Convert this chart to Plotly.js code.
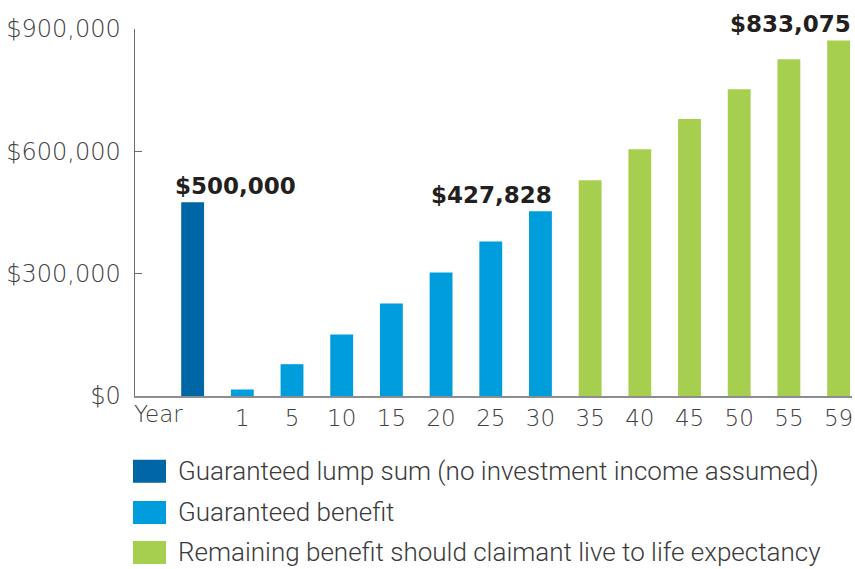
<!DOCTYPE html>
<html>
<head>
<meta charset="utf-8">
<script src="https://cdn.plot.ly/plotly-3.0.1.min.js"></script>
<style>html,body{margin:0;padding:0;background:#fff;}#chart{width:855px;height:569px;}</style>
</head>
<body>
<div id="chart"></div>
<script>
// ---- data ----
const categories = ["Lump sum","1","5","10","15","20","25","30","35","40","45","50","55","59"];
const tickLabels = ["","1","5","10","15","20","25","30","35","40","45","50","55","59"];
const lumpCats = ["Lump sum"];
const lumpValues = [475000];
const guaranteedCats = ["1","5","10","15","20","25","30"];
const guaranteedValues = [16000, 78000, 151000, 227000, 303000, 379000, 453000];
const remainingCats = ["35","40","45","50","55","59"];
const remainingValues = [529000, 605000, 679000, 752000, 826000, 872000];
const seriesNames = [
  "Guaranteed lump sum (no investment income assumed)",
  "Guaranteed benefit",
  "Remaining benefit should claimant live to life expectancy"
];
const colors = ["#0066a6", "#009ddc", "#a6cf50"];
const callouts = [
  {cat: "Lump sum", value: 475000, text: "$500,000", align: "left"},
  {cat: "30", value: 453000, text: "$427,828", align: "right"},
  {cat: "59", value: 872000, text: "$833,075", align: "right"}
];
const yTicks = [0, 300000, 600000, 900000];
const yTickText = ["$0", "$300,000", "$600,000", "$900,000"];

const FONT = "'DejaVu Sans', sans-serif";
const LEGFONT = "Roboto, 'Open Sans', sans-serif";
const BARW = 0.46;

const traces = [
  {type: "bar", x: lumpCats, y: lumpValues, name: seriesNames[0], marker: {color: colors[0]}, width: BARW, showlegend: false},
  {type: "bar", x: guaranteedCats, y: guaranteedValues, name: seriesNames[1], marker: {color: colors[1]}, width: BARW, showlegend: false},
  {type: "bar", x: remainingCats, y: remainingValues, name: seriesNames[2], marker: {color: colors[2]}, width: BARW, showlegend: false}
];

const annotations = callouts.map(c => ({
  x: categories.indexOf(c.cat), y: c.value, xref: "x", yref: "y",
  text: "<b>" + c.text + "</b>", showarrow: false,
  xanchor: c.align, yanchor: "bottom",
  xshift: c.align === "left" ? -20 : 14, yshift: 1,
  font: {family: FONT, size: 23, color: "#231f20"}
}));
annotations.push({
  x: 0, y: 0, xref: "paper", yref: "paper", text: "Year", showarrow: false,
  xanchor: "left", yanchor: "top", xshift: -3, yshift: -3,
  font: {family: FONT, size: 23, color: "#404040", weight: 200}
});

// custom legend (large swatches)
const shapes = [];
const plotW = 717, plotH = 366.7;
const rowCentres = [471, 512, 552];   // pixel centres of legend rows
seriesNames.forEach((n, i) => {
  const yPaper = (395.7 - rowCentres[i]) / plotH;
  shapes.push({
    type: "rect", xref: "paper", yref: "paper",
    x0: (133 - 135) / plotW, x1: (166 - 135) / plotW,
    y0: yPaper - 11.5 / plotH, y1: yPaper + 11.5 / plotH,
    fillcolor: colors[i], line: {width: 0}
  });
  annotations.push({
    x: (176 - 135) / plotW, y: yPaper, xref: "paper", yref: "paper",
    text: n, showarrow: false, xanchor: "left", yanchor: "middle",
    font: {family: LEGFONT, size: 26, color: "#3a3a3a", weight: 300}
  });
});

const layout = {
  width: 855, height: 569,
  margin: {l: 135, r: 3, t: 29, b: 173.3, pad: 0},
  paper_bgcolor: "#fff", plot_bgcolor: "#fff",
  barmode: "overlay",
  showlegend: false,
  font: {family: FONT, size: 23, color: "#404040"},
  xaxis: {
    type: "category", categoryorder: "array", categoryarray: categories,
    tickmode: "array", tickvals: categories, ticktext: tickLabels,
    range: [-1.16, 13.27], fixedrange: true,
    showline: true, linecolor: "#8c8d90", linewidth: 2,
    ticks: "", showgrid: false, zeroline: false,
    tickfont: {family: FONT, size: 23, color: "#404040", weight: 200}
  },
  yaxis: {
    range: [0, 900000], tickmode: "array", tickvals: yTicks, ticktext: yTickText,
    showline: true, linecolor: "#6d6e71", linewidth: 1.5,
    ticks: "inside", ticklen: 7, tickcolor: "#6d6e71", tickwidth: 1.5,
    showgrid: false, zeroline: false, ticklabelstandoff: 8,
    tickfont: {family: FONT, size: 24, color: "#404040", weight: 200}
  },
  annotations: annotations,
  shapes: shapes
};

Plotly.newPlot("chart", traces, layout, {displayModeBar: false, staticPlot: true});
</script>
</body>
</html>
